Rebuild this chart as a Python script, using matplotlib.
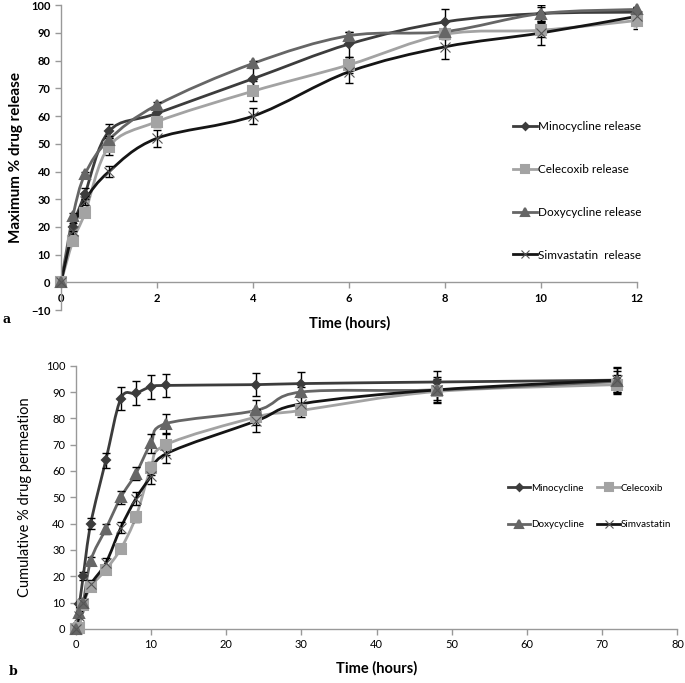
import matplotlib
matplotlib.use("Agg")
import matplotlib.pyplot as plt
import numpy as np
from matplotlib.path import Path
from matplotlib.patches import PathPatch
from matplotlib.lines import Line2D

plt.rcParams["font.family"] = ["Lato", "DejaVu Sans"]

# ---- panel a: release ----
time_a = [0, 0.25, 0.5, 1, 2, 4, 6, 8, 10, 12]
mino_a = [0, 20, 32, 54.5, 61, 73.5, 86, 94, 97, 97.5]
cele_a = [0, 15, 25, 49, 58, 69, 78.5, 89.5, 91, 94.5]
doxy_a = [0, 24, 39, 51.5, 64, 79, 89, 90.5, 97, 98.5]
simv_a = [0, 18.5, 29.5, 40, 52, 60, 76, 85, 90, 96]
mino_a_err = [0, 1.5, 2, 2.5, 2, 4, 4.5, 4.5, 2.5, 1.5]
cele_a_err = [0, 1.5, 1.5, 3, 2, 3.5, 3, 1.5, 2.5, 3]
doxy_a_err = [0, 1, 1, 1.5, 1, 1, 1.5, 1, 3, 1]
simv_a_err = [0, 1.5, 1.5, 2, 3, 3, 4, 4.5, 4.5, 3.5]
labels_a = ["Minocycline release", "Celecoxib release",
            "Doxycycline release", "Simvastatin  release"]

# ---- panel b: permeation ----
time_b = [0, 0.5, 1, 2, 4, 6, 8, 10, 12, 24, 30, 48, 72]
mino_b = [0, 9.5, 20, 40, 64, 87.5, 89.5, 92, 92.5, 92.8, 93.2, 93.8, 94.5]
cele_b = [0, 0.5, 9, 16, 22.5, 30.5, 42.5, 61, 70, 80.5, 83, 90.2, 92.8]
doxy_b = [0, 6, 10, 26, 38, 50, 59, 70.5, 78, 83, 90, 90.8, 94]
simv_b = [0, 5, 10, 17, 25, 38.5, 49.5, 58, 66.5, 79, 85.5, 90.8, 94.5]
mino_b_err = [0, 1, 1.5, 2, 3, 4.5, 4.5, 4.5, 4.5, 4.5, 4.5, 4, 4.5]
cele_b_err = [0, 0.5, 1, 1.5, 1.5, 1.5, 2, 2.5, 4, 3, 2.5, 4, 3.5]
doxy_b_err = [0, 1, 1, 1.5, 2, 2.5, 2.5, 3.5, 3.5, 4, 2, 4, 4]
simv_b_err = [0, 1, 1.5, 1.5, 2, 2, 2.5, 3, 3.5, 4, 3, 5, 5]
labels_b = ["Minocycline", "Celecoxib", "Doxycycline", "Simvastatin"]

colors = ["#3c3c3c", "#a3a3a3", "#666666", "#151515"]
markers = ["D", "s", "^", "x"]
msizes = [4.5, 6.5, 6.5, 6.5]
mews = [1.5, 1.5, 1.5, 0.8]
mcolors = ["#3c3c3c", "#a3a3a3", "#666666", "#555555"]


def smooth_line(ax, x, y, color):
    """Excel style smoothed line drawn as bezier path in data coords"""
    pts = np.column_stack([x, y]).astype(float)
    n = len(pts)
    verts = [pts[0]]
    codes = [Path.MOVETO]
    for i in range(n - 1):
        p0 = pts[i - 1] if i > 0 else pts[i]
        p1 = pts[i]
        p2 = pts[i + 1]
        p3 = pts[i + 2] if i + 2 < n else pts[i + 1]
        verts += [p1 + (p2 - p0) / 6, p2 - (p3 - p1) / 6, p2]
        codes += [Path.CURVE4] * 3
    patch = PathPatch(Path(verts, codes), facecolor="none",
                      edgecolor=color, lw=2, zorder=2)
    ax.add_patch(patch)


def style_axes(ax):
    for s in ["top", "right"]:
        ax.spines[s].set_visible(False)
    for s in ["left", "bottom"]:
        ax.spines[s].set_color("#999999")
        ax.spines[s].set_linewidth(1)
    ax.tick_params(colors="#999999", length=4, width=1)


def draw_series(ax, t, series, errs):
    for y, e, c, m, ms, mw, mc in zip(series, errs, colors, markers,
                                      msizes, mews, mcolors):
        smooth_line(ax, t, y, c)
        ax.errorbar(t, y, yerr=e, fmt="none", ecolor="black",
                    elinewidth=1, capsize=3, zorder=3)
        ax.plot(t, y, linestyle="none", marker=m, color=mc,
                markersize=ms, mew=mw, zorder=4, clip_on=False)


fig = plt.figure(figsize=(6.85, 6.83), dpi=100)

# panel a
ax1 = fig.add_axes([0.089, 0.546, 0.841, 0.4463])
draw_series(ax1, time_a, [mino_a, cele_a, doxy_a, simv_a],
            [mino_a_err, cele_a_err, doxy_a_err, simv_a_err])
ax1.set_xlim(0, 12)
ax1.set_ylim(-10, 100)
ax1.set_xticks(range(0, 13, 2))
ax1.set_yticks(range(-10, 101, 10))
style_axes(ax1)
ax1.spines["bottom"].set_position(("data", 0))
for lab in ax1.get_xticklabels() + ax1.get_yticklabels():
    lab.set_fontsize(8)
    lab.set_fontweight("bold")
    lab.set_color("black")
ax1.set_ylabel("Maximum % drug release", fontsize=11, fontweight="bold",
               labelpad=6)
fig.text(0.51, 0.527, "Time (hours)", fontsize=10.5, fontweight="bold",
         ha="center", va="center")
fig.text(0.004, 0.532, "a", fontsize=9, fontweight="bold",
         family="DejaVu Serif", va="center")

handles = [Line2D([], [], color=c, lw=2, marker=m, markersize=ms - 1,
                  mew=mw, markeredgecolor=mc, markerfacecolor=mc)
           for c, m, ms, mw, mc in zip(colors, markers, msizes, mews, mcolors)]
fig.legend(handles, labels_a, loc="upper left",
           bbox_to_anchor=(0.741, 0.8315), frameon=False, fontsize=8.5,
           labelspacing=2.7, handlelength=2.0, handletextpad=0.1,
           borderpad=0)

# panel b
ax2 = fig.add_axes([0.1105, 0.0791, 0.8785, 0.3855])
draw_series(ax2, time_b, [mino_b, cele_b, doxy_b, simv_b],
            [mino_b_err, cele_b_err, doxy_b_err, simv_b_err])
ax2.set_xlim(0, 80)
ax2.set_ylim(0, 100)
ax2.set_xticks(range(0, 81, 10))
ax2.set_yticks(range(0, 101, 10))
style_axes(ax2)
for lab in ax2.get_xticklabels() + ax2.get_yticklabels():
    lab.set_fontsize(8)
    lab.set_color("black")
ax2.set_ylabel("Cumulative % drug permeation", fontsize=10.5, labelpad=10)
fig.text(0.55, 0.022, "Time (hours)", fontsize=10.5, fontweight="bold",
         ha="center", va="center")
fig.text(0.013, 0.008, "b", fontsize=9, fontweight="bold",
         family="DejaVu Serif", va="bottom")

order = [0, 2, 1, 3]
fig.legend([handles[i] for i in order], [labels_b[i] for i in order],
           loc="upper left", bbox_to_anchor=(0.734, 0.299), ncol=2,
           frameon=False, fontsize=7.1, labelspacing=2.8, handlelength=2.3,
           handletextpad=0.1, columnspacing=1.3, borderpad=0)

fig.savefig("out.png", dpi=100)
